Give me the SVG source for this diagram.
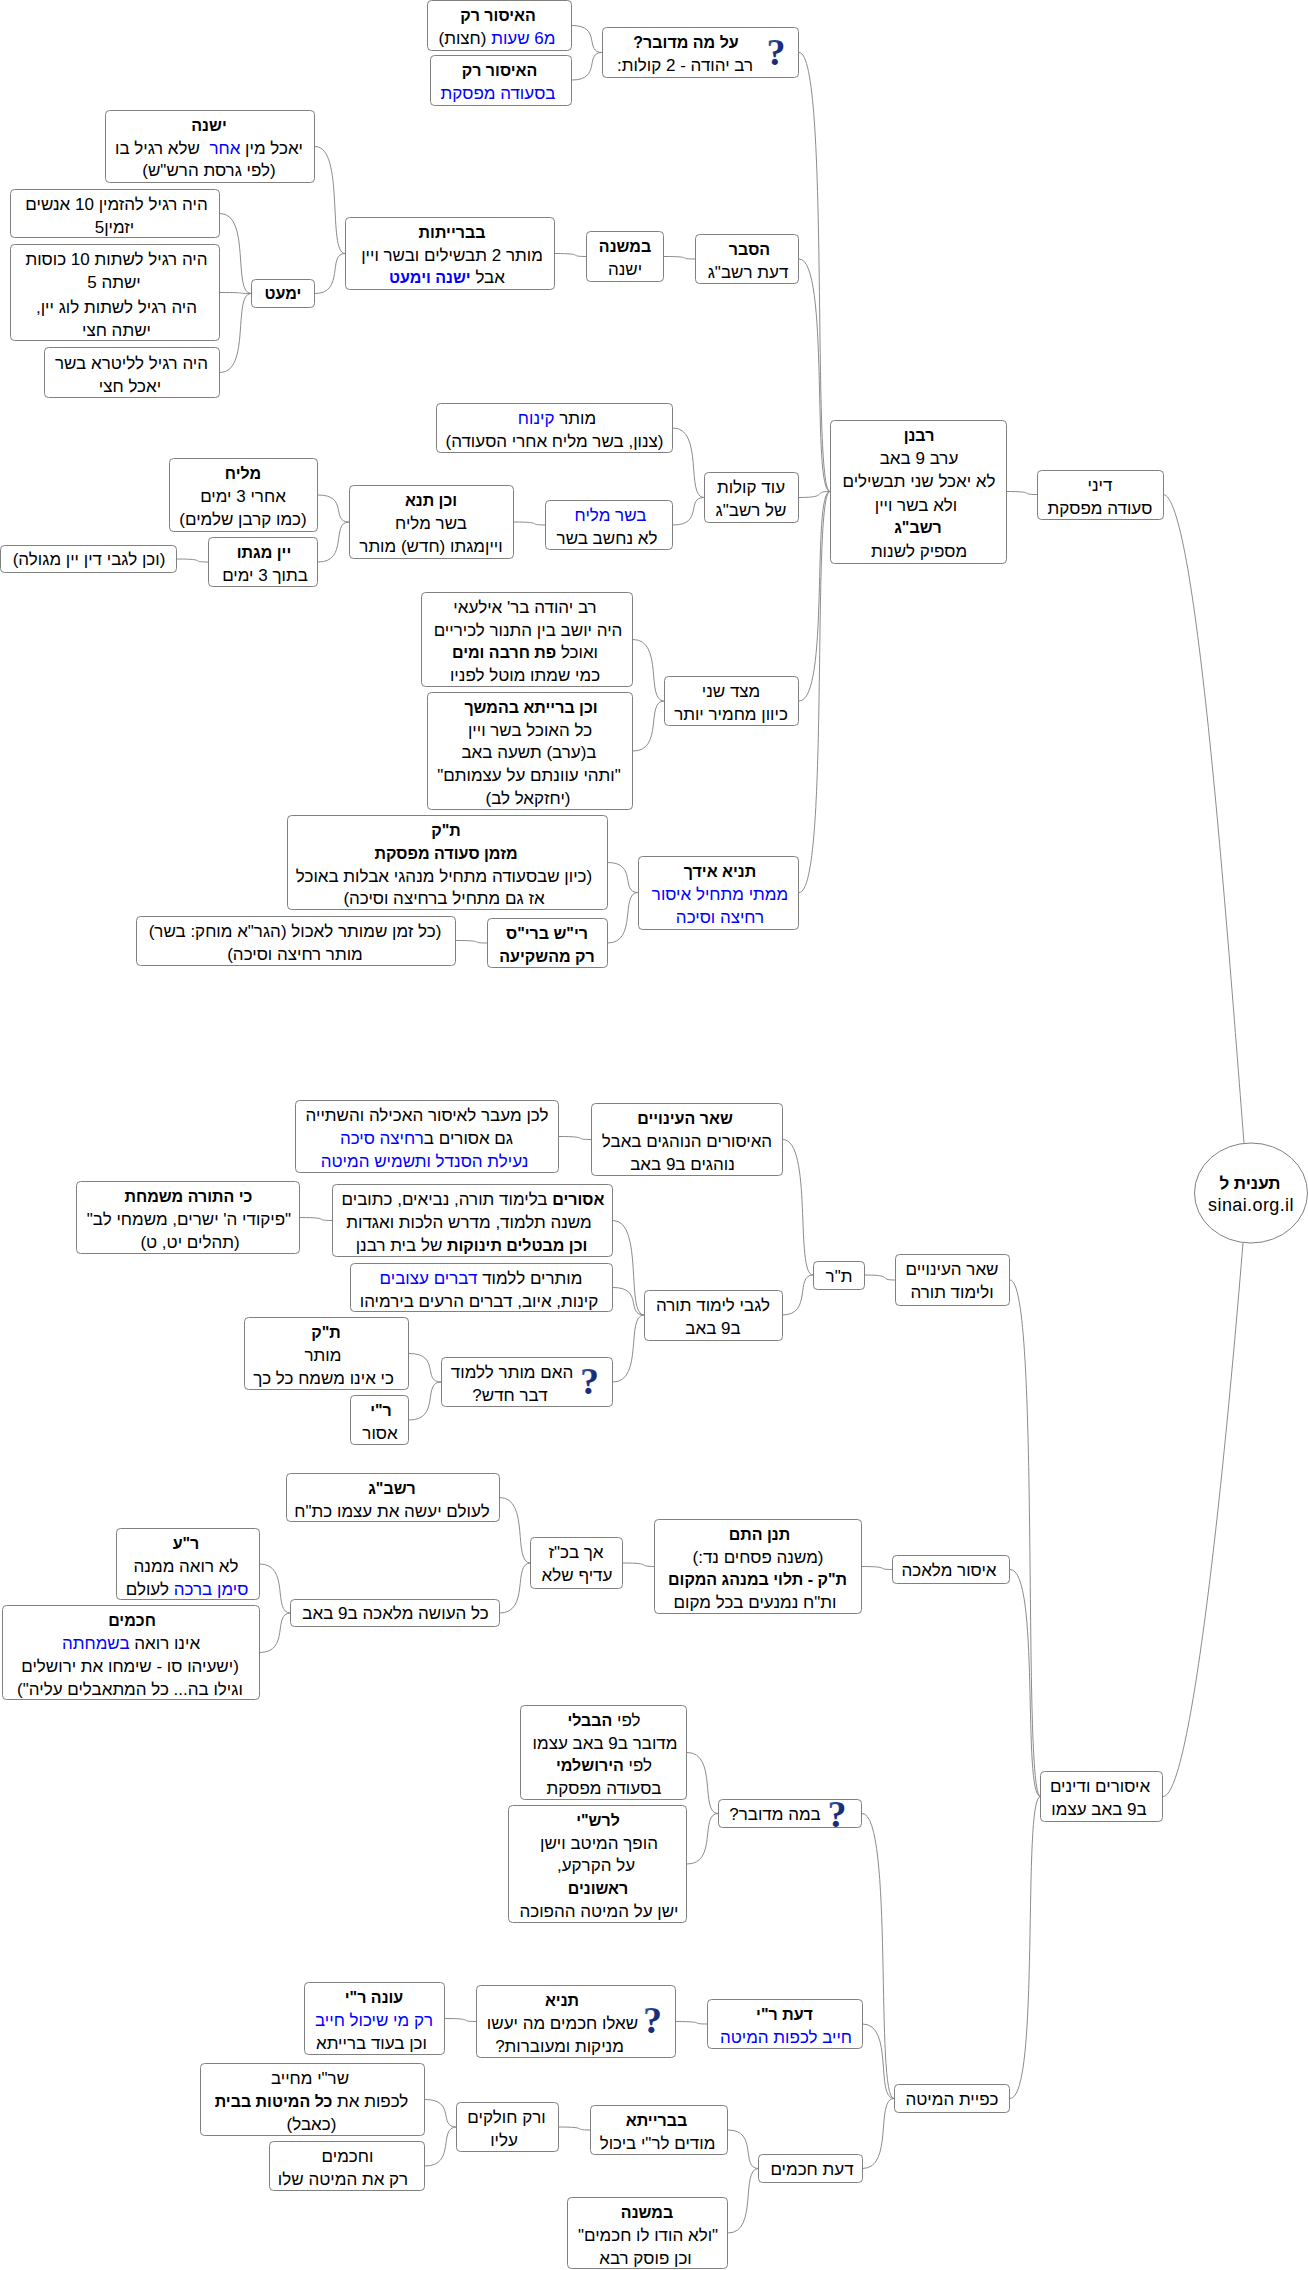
<svg xmlns="http://www.w3.org/2000/svg" width="1308" height="2270" viewBox="0 0 1308 2270">
<defs><linearGradient id="qg" x1="0" y1="0" x2="1" y2="1"><stop offset="0" stop-color="#3a6fb0"/><stop offset="0.5" stop-color="#1c2f80"/><stop offset="1" stop-color="#14204f"/></linearGradient></defs>
<style>
rect,ellipse{fill:#fff;stroke:#808080;stroke-width:1}
#connectors path{fill:none;stroke:#8c8c8c;stroke-width:1}
text{font-family:"Liberation Sans",Arial,sans-serif;font-size:17px;fill:#000;text-anchor:middle;direction:rtl;white-space:pre}
.b{font-weight:bold;font-size:16px}
.u{fill:#0000ff}
text.q{font-family:"Liberation Serif","Times New Roman",serif;font-size:38px;font-weight:bold;fill:url(#qg);direction:ltr}
</style>
<rect x="0" y="0" width="1308" height="2270" style="fill:#fff;stroke:none"/>
<g id="connectors">
<path d="M572 25.5C602 25.5 584 52.5 602 52.5"/>
<path d="M572 80C602 80 584 52.5 602 52.5"/>
<path d="M799 52.5C830 52.5 811.4 491.5 830 491.5"/>
<path d="M799 259C830 259 811.4 491.5 830 491.5"/>
<path d="M799 497.5C830 497.5 811.4 491.5 830 491.5"/>
<path d="M799 701C830 701 811.4 491.5 830 491.5"/>
<path d="M799 892.5C830 892.5 811.4 491.5 830 491.5"/>
<path d="M664 256.5C695 256.5 676.4 259 695 259"/>
<path d="M555 253.5C586 253.5 567.4 256.5 586 256.5"/>
<path d="M315 146.5C345 146.5 327 253.5 345 253.5"/>
<path d="M315 293.5C345 293.5 327 253.5 345 253.5"/>
<path d="M220 213.5C251 213.5 232.4 293.5 251 293.5"/>
<path d="M220 292.5C251 292.5 232.4 293.5 251 293.5"/>
<path d="M220 372.5C251 372.5 232.4 293.5 251 293.5"/>
<path d="M673 428C704 428 685.4 497.5 704 497.5"/>
<path d="M673 525C704 525 685.4 497.5 704 497.5"/>
<path d="M514 522C545 522 526.4 525 545 525"/>
<path d="M318 495C349 495 330.4 522 349 522"/>
<path d="M318 562C349 562 330.4 522 349 522"/>
<path d="M177 559C208 559 189.4 562 208 562"/>
<path d="M633 639.5C664 639.5 645.4 701 664 701"/>
<path d="M633 751C664 751 645.4 701 664 701"/>
<path d="M607.5 862.5C638 862.5 619.7 892.5 638 892.5"/>
<path d="M607.5 943C638 943 619.7 892.5 638 892.5"/>
<path d="M456 940.5C487 940.5 468.4 943 487 943"/>
<path d="M1006.5 491.5C1037 491.5 1018.7 494.5 1037 494.5"/>
<path d="M1163 494.5C1195 494.5 1225 900 1244 1143"/>
<path d="M1163 1796.5C1190 1796.5 1222 1500 1243 1243"/>
<path d="M1010 1280C1040.5 1280 1022 1796.5 1040.5 1796.5"/>
<path d="M1010 1569.5C1040.5 1569.5 1022 1796.5 1040.5 1796.5"/>
<path d="M1010 2098.5C1040.5 2098.5 1022 1796.5 1040.5 1796.5"/>
<path d="M865 1275C895 1275 877 1280 895 1280"/>
<path d="M782.5 1139.5C813 1139.5 794.7 1275 813 1275"/>
<path d="M782 1315C813 1315 794.4 1275 813 1275"/>
<path d="M559 1136.5C591 1136.5 571.8 1139.5 591 1139.5"/>
<path d="M613 1220.5C644 1220.5 625.4 1315 644 1315"/>
<path d="M613 1287.5C644 1287.5 625.4 1315 644 1315"/>
<path d="M613 1382C644 1382 625.4 1315 644 1315"/>
<path d="M300 1217.5C332 1217.5 312.8 1220.5 332 1220.5"/>
<path d="M409 1353.5C441 1353.5 421.8 1382 441 1382"/>
<path d="M409 1420C441 1420 421.8 1382 441 1382"/>
<path d="M861.5 1566.5C892.5 1566.5 874 1569.5 892.5 1569.5"/>
<path d="M623 1563C654.5 1563 635.6 1566.5 654.5 1566.5"/>
<path d="M499.5 1497.5C530.5 1497.5 512 1563 530.5 1563"/>
<path d="M499.5 1613C530.5 1613 512 1563 530.5 1563"/>
<path d="M259.5 1564C290.5 1564 272 1613 290.5 1613"/>
<path d="M259.5 1652.5C290.5 1652.5 272 1613 290.5 1613"/>
<path d="M862 1813.5C894 1813.5 874.8 2098.5 894 2098.5"/>
<path d="M862.5 2024C894 2024 875 2098.5 894 2098.5"/>
<path d="M862.5 2168.5C894 2168.5 875 2098.5 894 2098.5"/>
<path d="M687 1752.5C718 1752.5 699.4 1813.5 718 1813.5"/>
<path d="M687 1864C718 1864 699.4 1813.5 718 1813.5"/>
<path d="M676 2021.5C707.5 2021.5 688.6 2024 707.5 2024"/>
<path d="M445 2018.5C476 2018.5 457.4 2021.5 476 2021.5"/>
<path d="M728 2130C758.5 2130 740 2168.5 758.5 2168.5"/>
<path d="M728 2233C758.5 2233 740 2168.5 758.5 2168.5"/>
<path d="M558.5 2127C590 2127 571 2130 590 2130"/>
<path d="M425 2099.5C456.5 2099.5 437.6 2127 456.5 2127"/>
<path d="M425 2166C456.5 2166 437.6 2127 456.5 2127"/>
</g>
<g id="n-root"><ellipse cx="1251" cy="1193" rx="56.5" ry="50"/><text x="1250" y="1189" class="b" style="font-size:17px">תענית ל</text><text x="1251" y="1211" style="direction:ltr;font-size:18px;letter-spacing:.4px">sinai.org.il</text></g>
<g id="n-dini"><rect x="1037.5" y="470.5" width="126" height="49" rx="4"/><text x="1100" y="491">דיני</text><text x="1100" y="514">סעודה מפסקת</text></g>
<g id="n-rabanan"><rect x="830.5" y="420.5" width="176" height="143" rx="4"/><text x="919" y="441" class="b">רבנן</text><text x="919" y="464">ערב 9 באב</text><text x="919" y="487">לא יאכל שני תבשילים</text><text x="916" y="511">ולא בשר ויין</text><text x="918" y="533" class="b">רשב"ג</text><text x="919" y="557">מספיק לשנות</text></g>
<g id="n-a1"><rect x="427.5" y="0.5" width="144" height="50" rx="4"/><text x="498" y="21" class="b">האיסור רק</text><text x="497" y="44"><tspan class="u">מ6 שעות</tspan> (חצות)</text></g>
<g id="n-a2"><rect x="430.5" y="55.5" width="141" height="50" rx="4"/><text x="499.5" y="76" class="b">האיסור רק</text><text x="498" y="99" class="u">בסעודה מפסקת</text></g>
<g id="n-what"><rect x="602.5" y="27.5" width="196" height="50" rx="4"/><text x="686" y="48" class="b">על מה מדובר?</text><text x="685" y="71">רב יהודה - 2 קולות:</text><text x="776" y="65" class="q">?</text></g>
<g id="n-hesber"><rect x="695.5" y="234.5" width="103" height="49" rx="4"/><text x="749.5" y="255" class="b">הסבר</text><text x="748" y="278">דעת רשב"ג</text></g>
<g id="n-mishna1"><rect x="586.5" y="231.5" width="77" height="50" rx="4"/><text x="625" y="252" class="b">במשנה</text><text x="625" y="275">ישנה</text></g>
<g id="n-braitot"><rect x="345.5" y="217.5" width="209" height="72" rx="4"/><text x="452" y="238" class="b">בברייתות</text><text x="452" y="261">מותר 2 תבשילים ובשר ויין</text><text x="447" y="283">אבל <tspan class="u b">ישנה וימעט</tspan></text></g>
<g id="n-yeshana"><rect x="105.5" y="110.5" width="209" height="72" rx="4"/><text x="209" y="131" class="b">ישנה</text><text x="209" y="154">יאכל מין <tspan class="u">אחר</tspan>  שלא רגיל בו</text><text x="209" y="176">(לפי גרסת הרש"ש)</text></g>
<g id="n-yemaet"><rect x="251.5" y="279.5" width="63" height="28" rx="4"/><text x="283" y="299" class="b">ימעט</text></g>
<g id="n-b1"><rect x="10.5" y="189.5" width="209" height="48" rx="4"/><text x="116.5" y="210">היה רגיל להזמין 10 אנשים</text><text x="114.5" y="233">יזמין5</text></g>
<g id="n-b2"><rect x="10.5" y="244.5" width="209" height="96" rx="4"/><text x="116.5" y="265">היה רגיל לשתות 10 כוסות</text><text x="114" y="288">ישתה 5</text><text x="116.5" y="313">היה רגיל לשתות לוג יין,</text><text x="116.5" y="336">ישתה חצי</text></g>
<g id="n-b3"><rect x="44.5" y="347.5" width="175" height="50" rx="4"/><text x="131.5" y="369">היה רגיל לליטרא בשר</text><text x="130" y="392">יאכל חצי</text></g>
<g id="n-kinuach"><rect x="436.5" y="403.5" width="236" height="49" rx="4"/><text x="557" y="424">מותר <tspan class="u">קינוח</tspan></text><text x="554.5" y="447">(צנון, בשר מליח אחרי הסעודה)</text></g>
<g id="n-kolot"><rect x="704.5" y="472.5" width="94" height="50" rx="4"/><text x="751" y="493">עוד קולות</text><text x="751" y="516">של רשב"ג</text></g>
<g id="n-basar"><rect x="545.5" y="500.5" width="127" height="49" rx="4"/><text x="610.5" y="521" class="u">בשר מליח</text><text x="607" y="544">לא נחשב בשר</text></g>
<g id="n-tana"><rect x="349.5" y="485.5" width="164" height="73" rx="4"/><text x="431" y="506" class="b">וכן תנא</text><text x="431" y="529">בשר מליח</text><text x="431" y="552">וייןמגתו (חדש) מותר</text></g>
<g id="n-maliach"><rect x="169.5" y="458.5" width="148" height="73" rx="4"/><text x="243" y="479" class="b">מליח</text><text x="243" y="502">אחרי 3 ימים</text><text x="243" y="525">(כמו קרבן שלמים)</text></g>
<g id="n-gitto"><rect x="208.5" y="537.5" width="109" height="49" rx="4"/><text x="264" y="558" class="b">יין מגתו</text><text x="265" y="581">בתוך 3 ימים</text></g>
<g id="n-megule"><rect x="0.5" y="545.5" width="176" height="27" rx="4"/><text x="89" y="565">(וכן לגבי דין יין מגולה)</text></g>
<g id="n-yehuda"><rect x="421.5" y="592.5" width="211" height="94" rx="4"/><text x="525" y="613">רב יהודה בר' אילעאי</text><text x="528" y="636">היה יושב בין התנור לכיריים</text><text x="525" y="658">ואוכל <tspan class="b">פת חרבה ומים</tspan></text><text x="525" y="681">כמי שמתו מוטל לפניו</text></g>
<g id="n-beraita2"><rect x="427.5" y="692.5" width="205" height="117" rx="4"/><text x="531" y="713" class="b">וכן ברייתא בהמשך</text><text x="530" y="736">כל האוכל בשר ויין</text><text x="529" y="758">ב(ערב) תשעה באב</text><text x="529" y="781">"ותהי עוונתם על עצמותם"</text><text x="528" y="804">(יחזקאל לב)</text></g>
<g id="n-tzad"><rect x="664.5" y="676.5" width="134" height="49" rx="4"/><text x="731" y="697">מצד שני</text><text x="731" y="720">כיוון מחמיר יותר</text></g>
<g id="n-tk1"><rect x="287.5" y="815.5" width="320" height="94" rx="4"/><text x="446" y="836" class="b">ת"ק</text><text x="446" y="859" class="b">מזמן סעודה מפסקת</text><text x="444" y="882">(כיון שבסעודה מתחיל מנהגי אבלות באוכל</text><text x="444" y="904">אז גם מתחיל ברחיצה וסיכה)</text></g>
<g id="n-acher"><rect x="638.5" y="856.5" width="160" height="73" rx="4"/><text x="720" y="877" class="b">תניא אידך</text><text x="720" y="900" class="u">ממתי מתחיל איסור</text><text x="720" y="923" class="u">רחיצה וסיכה</text></g>
<g id="n-reish"><rect x="487.5" y="918.5" width="120" height="49" rx="4"/><text x="547" y="939" class="b">רי"ש ברי"ס</text><text x="547" y="962" class="b">רק מהשקיעה</text></g>
<g id="n-kolzman"><rect x="136.5" y="916.5" width="319" height="49" rx="4"/><text x="295" y="937">(כל זמן שמותר לאכול (הגר"א מוחק: בשר)</text><text x="295" y="960">מותר רחיצה וסיכה)</text></g>
<g id="n-shear"><rect x="895.5" y="1254.5" width="114" height="51" rx="4"/><text x="952" y="1275">שאר העינויים</text><text x="952" y="1298">ולימוד תורה</text></g>
<g id="n-tr"><rect x="813.5" y="1261.5" width="51" height="28" rx="4"/><text x="839" y="1282">ת"ר</text></g>
<g id="n-inuyim"><rect x="591.5" y="1103.5" width="191" height="72" rx="4"/><text x="685" y="1124" class="b">שאר העינויים</text><text x="687" y="1147">האיסורים הנוהגים באבל</text><text x="682.5" y="1170">נוהגים ב9 באב</text></g>
<g id="n-lachen"><rect x="295.5" y="1100.5" width="263" height="72" rx="4"/><text x="427" y="1121">לכן מעבר לאיסור האכילה והשתייה</text><text x="426.5" y="1144">גם אסורים ב<tspan class="u">רחיצה סיכה</tspan></text><text x="424.5" y="1167" class="u">נעילת הסנדל ותשמיש המיטה</text></g>
<g id="n-limud"><rect x="644.5" y="1290.5" width="138" height="50" rx="4"/><text x="713" y="1311">לגבי לימוד תורה</text><text x="713" y="1334">ב9 באב</text></g>
<g id="n-asurim"><rect x="332.5" y="1184.5" width="280" height="72" rx="4"/><text x="473" y="1205"><tspan class="b">אסורים</tspan> בלימוד תורה, נביאים, כתובים</text><text x="469" y="1228">משנה תלמוד, מדרש הלכות ואגדות</text><text x="471.5" y="1251"><tspan class="b">וכן מבטלים תינוקות</tspan> של בית רבנן</text></g>
<g id="n-torah"><rect x="76.5" y="1181.5" width="223" height="72" rx="4"/><text x="188.5" y="1202" class="b">כי התורה משמחת</text><text x="189" y="1225">"פיקודי ה' ישרים, משמחי לב"</text><text x="190" y="1248">(תהלים יט, ט)</text></g>
<g id="n-mutarim"><rect x="350.5" y="1263.5" width="262" height="48" rx="4"/><text x="481" y="1284">מותרים ללמוד <tspan class="u">דברים עצובים</tspan></text><text x="479" y="1307">קינות, איוב, דברים הרעים בירמיהו</text></g>
<g id="n-haim"><rect x="441.5" y="1357.5" width="171" height="49" rx="4"/><text x="512" y="1378">האם מותר ללמוד</text><text x="510" y="1401">דבר חדש?</text><text x="589.5" y="1394" class="q">?</text></g>
<g id="n-tk2"><rect x="244.5" y="1317.5" width="164" height="72" rx="4"/><text x="326" y="1338" class="b">ת"ק</text><text x="323" y="1361">מותר</text><text x="323.5" y="1384">כי אינו משמח כל כך</text></g>
<g id="n-ri"><rect x="350.5" y="1395.5" width="58" height="49" rx="4"/><text x="381" y="1416" class="b">ר"י</text><text x="380" y="1439">אסור</text></g>
<g id="n-melacha"><rect x="892.5" y="1555.5" width="117" height="28" rx="4"/><text x="949" y="1576">איסור מלאכה</text></g>
<g id="n-tanan"><rect x="654.5" y="1519.5" width="207" height="94" rx="4"/><text x="759.5" y="1540" class="b">תנן התם</text><text x="758" y="1563">(משנה פסחים נד:)</text><text x="757.5" y="1585" class="b">ת"ק - תלוי במנהג המקום</text><text x="755" y="1608">ות"ח נמנעים בכל מקום</text></g>
<g id="n-ach"><rect x="530.5" y="1537.5" width="92" height="51" rx="4"/><text x="576" y="1558">אך בכ"ז</text><text x="577" y="1581">עדיף שלא</text></g>
<g id="n-rashbag"><rect x="286.5" y="1473.5" width="213" height="48" rx="4"/><text x="392" y="1494" class="b">רשב"ג</text><text x="392" y="1517">לעולם יעשה את עצמו כת"ח</text></g>
<g id="n-oseh"><rect x="290.5" y="1599.5" width="209" height="27" rx="4"/><text x="395.5" y="1619">כל העושה מלאכה ב9 באב</text></g>
<g id="n-ra"><rect x="116.5" y="1528.5" width="143" height="71" rx="4"/><text x="186" y="1549" class="b">ר"ע</text><text x="186" y="1572">לא רואה ממנה</text><text x="187" y="1595"><tspan class="u">סימן ברכה</tspan> לעולם</text></g>
<g id="n-chachamim"><rect x="2.5" y="1605.5" width="257" height="94" rx="4"/><text x="132" y="1626" class="b">חכמים</text><text x="131" y="1649">אינו רואה <tspan class="u">בשמחתה</tspan></text><text x="130" y="1672">(ישעיהו סו - שימחו את ירושלים</text><text x="130" y="1695">וגילו בה... כל המתאבלים עליה")</text></g>
<g id="n-isurim"><rect x="1040.5" y="1771.5" width="122" height="50" rx="4"/><text x="1100" y="1792">איסורים ודינים</text><text x="1099" y="1815">ב9 באב עצמו</text></g>
<g id="n-bameh"><rect x="718.5" y="1799.5" width="143" height="28" rx="4"/><text x="775" y="1820">במה מדובר?</text><text x="837" y="1827" class="q">?</text></g>
<g id="n-bavli"><rect x="520.5" y="1705.5" width="166" height="94" rx="4"/><text x="604" y="1726">לפי <tspan class="b">הבבלי</tspan></text><text x="605" y="1749">מדובר ב9 באב עצמו</text><text x="604" y="1771">לפי <tspan class="b">הירושלמי</tspan></text><text x="604" y="1794">בסעודה מפסקת</text></g>
<g id="n-rashi"><rect x="508.5" y="1805.5" width="178" height="117" rx="4"/><text x="598" y="1826" class="b">לרש"י</text><text x="599" y="1849">הופך המיטב וישן</text><text x="596" y="1871">על הקרקע,</text><text x="598" y="1894" class="b">ראשונים</text><text x="599" y="1917">ישן על המיטה ההפוכה</text></g>
<g id="n-kfia"><rect x="894.5" y="2084.5" width="115" height="28" rx="4"/><text x="952" y="2105">כפיית המיטה</text></g>
<g id="n-daatri"><rect x="707.5" y="1999.5" width="155" height="49" rx="4"/><text x="784.5" y="2020" class="b">דעת ר"י</text><text x="786" y="2043" class="u">חייב לכפות המיטה</text></g>
<g id="n-tania"><rect x="476.5" y="1985.5" width="199" height="72" rx="4"/><text x="562" y="2006" class="b">תניא</text><text x="562.5" y="2029">שאלו חכמים מה יעשו</text><text x="559.5" y="2052">מניקות ומעוברות?</text><text x="652.5" y="2033" class="q">?</text></g>
<g id="n-one"><rect x="304.5" y="1982.5" width="140" height="72" rx="4"/><text x="374" y="2003" class="b">עונה ר"י</text><text x="374" y="2026" class="u">רק מי שיכול חייב</text><text x="371.5" y="2049">וכן בעוד ברייתא</text></g>
<g id="n-daatch"><rect x="758.5" y="2154.5" width="104" height="28" rx="4"/><text x="812" y="2175">דעת חכמים</text></g>
<g id="n-bbraita"><rect x="590.5" y="2105.5" width="137" height="49" rx="4"/><text x="656.5" y="2126" class="b">בברייתא</text><text x="657.5" y="2149">מודים לר"י ביכול</text></g>
<g id="n-mishna2"><rect x="567.5" y="2197.5" width="160" height="71" rx="4"/><text x="647" y="2218" class="b">במשנה</text><text x="648" y="2241">"ולא הודו לו חכמים"</text><text x="645.5" y="2264">וכן פוסק רבא</text></g>
<g id="n-rak"><rect x="456.5" y="2102.5" width="102" height="49" rx="4"/><text x="506.5" y="2123">ורק חולקים</text><text x="504" y="2146">עליו</text></g>
<g id="n-shri"><rect x="200.5" y="2063.5" width="224" height="72" rx="4"/><text x="310" y="2084">שר"י מחייב</text><text x="311.5" y="2107">לכפות את <tspan class="b">כל המיטות בבית</tspan></text><text x="311.5" y="2130">(כאבל)</text></g>
<g id="n-vechach"><rect x="269.5" y="2141.5" width="155" height="49" rx="4"/><text x="347.5" y="2162">וחכמים</text><text x="343" y="2185">רק את המיטה שלו</text></g>
</svg>
